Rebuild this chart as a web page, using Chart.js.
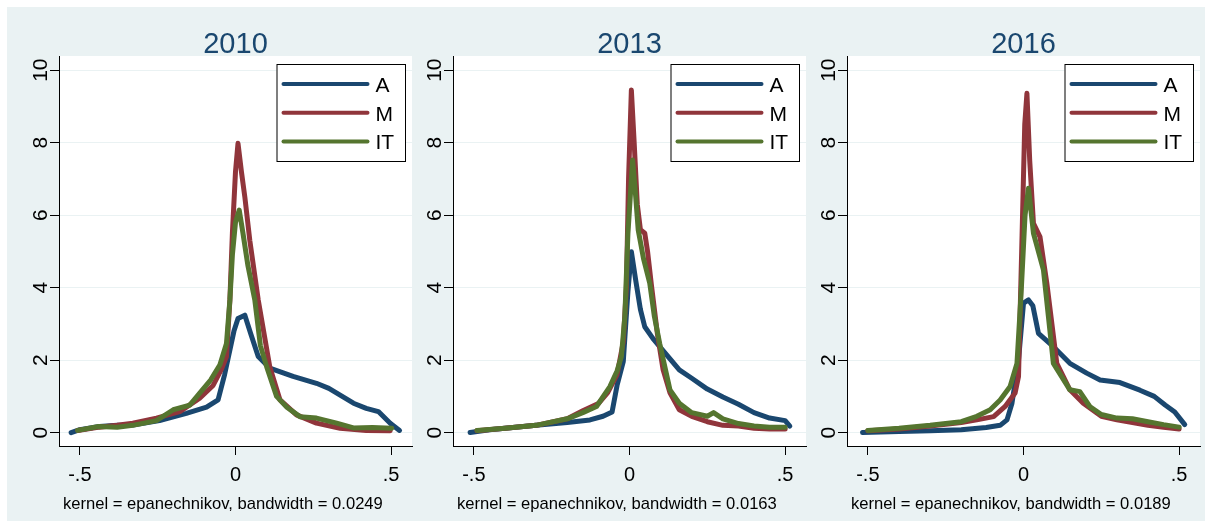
<!DOCTYPE html>
<html lang="en">
<head>
  <meta charset="UTF-8" />
  <title>Kernel densities 2010 / 2013 / 2016</title>
  <style>
    body { margin: 0; background: #fff; }
    #bg { position: absolute; left: 7px; top: 7px; width: 1198px; height: 514px; background: #eaf2f3; }
    canvas { position: absolute; top: 0; }
  </style>
</head>
<body>
  <div id="bg"></div>
  <canvas id="c0" width="417" height="521" style="left:0px"></canvas>
  <canvas id="c1" width="417" height="521" style="left:394px"></canvas>
  <canvas id="c2" width="417" height="521" style="left:788px"></canvas>

  <script src="https://cdn.jsdelivr.net/npm/chart.js"></script>
  <script>
    // panel titles and notes
    const years = ["2010", "2013", "2016"];
    const bandwidths = ["0.0249", "0.0163", "0.0189"];
    const seriesNames = ["A", "M", "IT"];
    const seriesColors = ["#1a476f", "#90353b", "#55752f"];

    const xTicks = [-0.5, 0, 0.5];
    const xTickText = ["-.5", "0", ".5"];
    const yTicks = [0, 2, 4, 6, 8, 10];

    // 2010
    const a10X = [-0.528, -0.50, -0.437, -0.38, -0.33, -0.244, -0.158, -0.093, -0.056, -0.035, -0.018, -0.005, 0.008, 0.03, 0.05, 0.073, 0.11, 0.185, 0.26, 0.30, 0.379, 0.42, 0.459, 0.497, 0.527];
    const a10Y = [0.0, 0.08, 0.17, 0.2, 0.21, 0.33, 0.53, 0.70, 0.90, 1.6, 2.28, 2.8, 3.15, 3.24, 2.7, 2.1, 1.78, 1.55, 1.36, 1.22, 0.81, 0.67, 0.58, 0.26, 0.06];
    const m10X = [-0.507, -0.437, -0.38, -0.33, -0.254, -0.179, -0.115, -0.072, -0.045, -0.029, -0.018, -0.01, 0.0, 0.008, 0.019, 0.03, 0.046, 0.073, 0.11, 0.143, 0.196, 0.26, 0.336, 0.42, 0.497];
    const m10Y = [0.06, 0.15, 0.2, 0.26, 0.4, 0.58, 0.95, 1.3, 1.75, 2.1, 3.66, 5.5, 7.2, 7.98, 7.2, 6.5, 5.3, 3.66, 1.82, 0.9, 0.49, 0.26, 0.12, 0.06, 0.05];
    const it10X = [-0.507, -0.44, -0.38, -0.33, -0.254, -0.2, -0.147, -0.115, -0.08, -0.05, -0.029, -0.018, -0.01, 0.0, 0.012, 0.024, 0.04, 0.062, 0.08, 0.10, 0.132, 0.165, 0.207, 0.26, 0.325, 0.379, 0.44, 0.502];
    const it10Y = [0.06, 0.17, 0.15, 0.2, 0.33, 0.63, 0.76, 1.09, 1.45, 1.87, 2.46, 3.66, 4.9, 5.8, 6.14, 5.5, 4.6, 3.66, 2.4, 1.82, 1.0, 0.7, 0.44, 0.4, 0.26, 0.13, 0.14, 0.12];

    // 2013
    const a13X = [-0.512, -0.45, -0.4, -0.3, -0.2, -0.127, -0.085, -0.056, -0.04, -0.02, -0.005, 0.006, 0.02, 0.035, 0.049, 0.075, 0.097, 0.16, 0.2, 0.25, 0.3, 0.35, 0.4, 0.45, 0.5, 0.515];
    const a13Y = [0.0, 0.08, 0.12, 0.2, 0.28, 0.35, 0.45, 0.57, 1.3, 1.96, 3.9, 4.99, 4.2, 3.4, 2.92, 2.6, 2.37, 1.73, 1.5, 1.2, 0.98, 0.78, 0.55, 0.4, 0.33, 0.18];
    const m13X = [-0.49, -0.4, -0.3, -0.2, -0.15, -0.1, -0.07, -0.04, -0.02, -0.01, -0.003, 0.006, 0.015, 0.025, 0.035, 0.049, 0.058, 0.07, 0.09, 0.108, 0.13, 0.16, 0.2, 0.25, 0.3, 0.35, 0.4, 0.45, 0.5];
    const m13Y = [0.05, 0.12, 0.2, 0.38, 0.6, 0.8, 1.1, 1.6, 2.5, 4.0, 7.0, 9.45, 8.0, 6.3, 5.6, 5.5, 5.0, 4.1, 2.7, 1.73, 1.1, 0.63, 0.45, 0.3, 0.2, 0.18, 0.12, 0.1, 0.1];
    const it13X = [-0.49, -0.4, -0.3, -0.2, -0.15, -0.106, -0.063, -0.04, -0.026, -0.015, -0.005, 0.01, 0.02, 0.028, 0.045, 0.065, 0.08, 0.097, 0.13, 0.16, 0.2, 0.25, 0.27, 0.3, 0.35, 0.4, 0.45, 0.5];
    const it13Y = [0.06, 0.12, 0.2, 0.38, 0.55, 0.72, 1.27, 1.7, 2.1, 3.2, 5.5, 7.52, 6.5, 5.59, 4.8, 4.12, 3.2, 2.46, 1.18, 0.81, 0.55, 0.45, 0.55, 0.38, 0.25, 0.18, 0.15, 0.15];

    // 2016
    const a16X = [-0.517, -0.4, -0.3, -0.2, -0.12, -0.075, -0.053, -0.037, -0.016, 0.0, 0.016, 0.03, 0.048, 0.096, 0.149, 0.203, 0.246, 0.31, 0.374, 0.42, 0.455, 0.486, 0.518];
    const a16Y = [0.0, 0.03, 0.05, 0.08, 0.14, 0.2, 0.35, 0.81, 2.0, 3.57, 3.66, 3.5, 2.74, 2.37, 1.91, 1.64, 1.45, 1.38, 1.17, 1.0, 0.76, 0.57, 0.22];
    const m16X = [-0.5, -0.4, -0.3, -0.2, -0.15, -0.096, -0.059, -0.027, -0.016, -0.006, 0.004, 0.011, 0.02, 0.032, 0.053, 0.075, 0.107, 0.149, 0.192, 0.25, 0.3, 0.35, 0.4, 0.45, 0.5];
    const m16Y = [0.05, 0.1, 0.18, 0.28, 0.35, 0.44, 0.72, 1.09, 1.55, 4.95, 8.5, 9.36, 7.5, 5.77, 5.4, 4.12, 1.91, 1.18, 0.81, 0.45, 0.35, 0.28, 0.2, 0.15, 0.1];
    const it16X = [-0.5, -0.4, -0.3, -0.2, -0.15, -0.107, -0.075, -0.043, -0.021, -0.008, 0.005, 0.016, 0.032, 0.064, 0.08, 0.096, 0.149, 0.181, 0.213, 0.25, 0.3, 0.35, 0.4, 0.45, 0.5];
    const it16Y = [0.06, 0.12, 0.2, 0.3, 0.45, 0.63, 0.9, 1.27, 1.91, 3.8, 6.0, 6.74, 5.5, 4.49, 3.2, 1.91, 1.18, 1.13, 0.72, 0.5, 0.4, 0.38, 0.3, 0.22, 0.15];

    const panels = [
      [[a10X, a10Y], [m10X, m10Y], [it10X, it10Y]],
      [[a13X, a13Y], [m13X, m13Y], [it13X, it13Y]],
      [[a16X, a16Y], [m16X, m16Y], [it16X, it16Y]]
    ];

    const FONT = "'Liberation Sans', Arial, sans-serif";

    function toPoints(xs, ys) {
      return xs.map((x, i) => ({ x: x, y: ys[i] }));
    }

    // white plot region, title, note, rotated y labels and the boxed legend
    const stataDecor = {
      id: "stataDecor",
      beforeDraw(chart) {
        const a = chart.chartArea, ctx = chart.ctx;
        ctx.save();
        ctx.fillStyle = "#fff";
        ctx.fillRect(a.left, a.top, a.right - a.left, a.bottom - a.top);
        ctx.restore();
      },
      afterDraw(chart, args, opts) {
        const a = chart.chartArea, ctx = chart.ctx;
        const yScale = chart.scales.y;
        ctx.save();

        // title
        ctx.fillStyle = "#1a476f";
        ctx.font = "29px " + FONT;
        ctx.textAlign = "center";
        ctx.textBaseline = "alphabetic";
        ctx.fillText(opts.title, (a.left + a.right) / 2, 52.5);

        // note
        ctx.fillStyle = "#000";
        ctx.font = "16.6px " + FONT;
        ctx.textAlign = "left";
        ctx.fillText(opts.note, a.left + 4, 509);

        // y tick labels, rotated
        ctx.font = "21px " + FONT;
        ctx.textAlign = "center";
        yTicks.forEach(v => {
          const py = yScale.getPixelForValue(v);
          ctx.save();
          ctx.translate(a.left - 12.5, py);
          ctx.rotate(-Math.PI / 2);
          ctx.fillText(String(v), 0, 0);
          ctx.restore();
        });

        // legend
        const bw = 128.5, bh = 97;
        const bx = a.right - 7 - bw, by = a.top + 8;
        ctx.fillStyle = "#fff";
        ctx.fillRect(bx, by, bw, bh);
        ctx.strokeStyle = "#000";
        ctx.lineWidth = 1;
        ctx.strokeRect(bx + 0.5, by + 0.5, bw, bh);
        ctx.lineCap = "round";
        ctx.textAlign = "left";
        ctx.textBaseline = "middle";
        chart.data.datasets.forEach((ds, i) => {
          const ly = by + 20 + i * 28.8;
          ctx.strokeStyle = ds.borderColor;
          ctx.lineWidth = 4;
          ctx.beginPath();
          ctx.moveTo(bx + 7, ly);
          ctx.lineTo(bx + 91, ly);
          ctx.stroke();
          ctx.fillStyle = "#000";
          ctx.fillText(ds.label, bx + 99, ly + 2);
        });
        ctx.restore();
      }
    };

    panels.forEach((series, p) => {
      const datasets = series.map((s, i) => ({
        label: seriesNames[i],
        data: toPoints(s[0], s[1]),
        borderColor: seriesColors[i],
        backgroundColor: seriesColors[i],
        borderWidth: 5,
        pointRadius: 0,
        tension: 0,
        fill: false,
        borderCapStyle: "round",
        borderJoinStyle: "round",
        order: 3 - i
      }));

      new Chart(document.getElementById("c" + p), {
        type: "line",
        data: { datasets: datasets },
        plugins: [stataDecor],
        options: {
          responsive: false,
          animation: false,
          events: [],
          layout: { padding: { left: 0, top: 56, right: 5, bottom: 0 } },
          plugins: {
            legend: { display: false },
            title: { display: false },
            tooltip: { enabled: false },
            stataDecor: {
              title: years[p],
              note: "kernel = epanechnikov, bandwidth = " + bandwidths[p]
            }
          },
          scales: {
            x: {
              type: "linear",
              min: -0.567,
              max: 0.567,
              afterBuildTicks: s => { s.ticks = xTicks.map(v => ({ value: v })); },
              afterFit: s => { s.height = 75; },
              grid: { drawOnChartArea: false, drawTicks: true, tickLength: 9, tickColor: "#000" },
              border: { display: true, color: "#000", width: 1 },
              ticks: {
                autoSkip: false,
                maxRotation: 0,
                padding: 8,
                color: "#000",
                font: { family: FONT, size: 20 },
                callback: v => xTickText[xTicks.indexOf(v)]
              }
            },
            y: {
              type: "linear",
              min: -0.37,
              max: 10.39,
              afterBuildTicks: s => { s.ticks = yTicks.map(v => ({ value: v })); },
              afterFit: s => { s.width = 59; },
              grid: { color: "#eaf2f3", lineWidth: 1, drawTicks: true, tickLength: 9, tickColor: "#000" },
              border: { display: true, color: "#000", width: 1 },
              ticks: { display: false }
            }
          }
        }
      });
    });
  </script>
</body>
</html>
